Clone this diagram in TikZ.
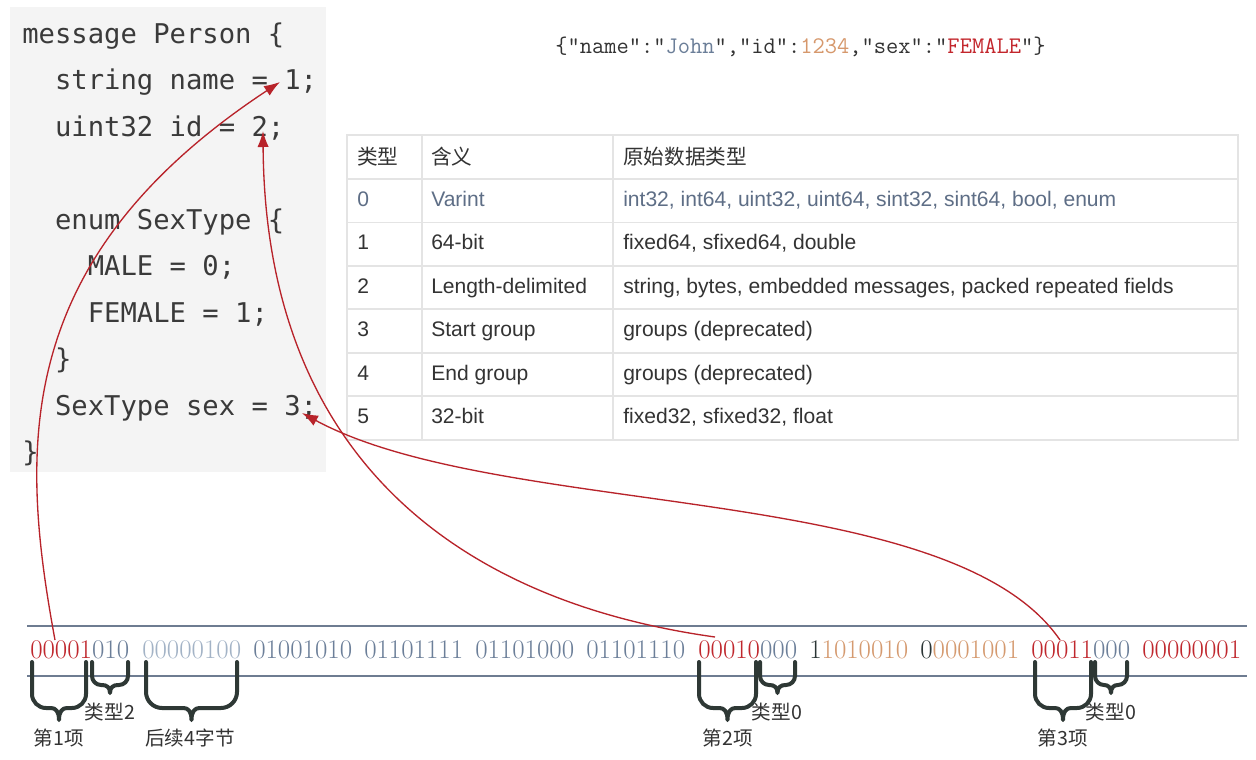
\documentclass[tikz,border=0pt]{standalone}
\usepackage{fontspec}
\usetikzlibrary{arrows.meta}
\newfontfamily\codefont{DejaVu Sans Mono}
\newfontfamily\tabfont{Liberation Sans}
\newfontfamily\cjk{Noto Sans CJK SC}
\definecolor{codebg}{HTML}{F4F4F4}
\definecolor{codegray}{HTML}{3A3A3A}
\definecolor{tabline}{HTML}{E4E4E4}
\definecolor{tabtext}{HTML}{333333}
\definecolor{tabslate}{HTML}{5E6E86}
\definecolor{jdark}{HTML}{333333}
\definecolor{jslate}{HTML}{6B7E98}
\definecolor{jtan}{HTML}{D6986C}
\definecolor{jred}{HTML}{C3262C}
\definecolor{bred}{HTML}{C0272D}
\definecolor{bslate}{HTML}{6C7F99}
\definecolor{blight}{HTML}{A3B3C6}
\definecolor{btan}{HTML}{D59A6F}
\definecolor{bdark}{HTML}{2B3535}
\definecolor{rulecol}{HTML}{6E7C91}
\definecolor{bracecol}{HTML}{2E3835}
\definecolor{arrowred}{HTML}{B8232A}
\newcommand{\mybrace}[6]{%
  \pgfmathsetmacro\bM{(#1+#2)/2}%
  \pgfmathsetmacro\bS{min(8,(#2-#1)/2-#6)}%
  \draw[bracestyle] (#1,#3) -- (#1,{#4-#6})
    .. controls (#1,{#4-0.45*#6}) and ({#1+0.45*#6},#4) .. ({#1+#6},#4)
    -- ({\bM-\bS},#4)
    .. controls ({\bM-0.4*\bS},#4) and (\bM,{#4+0.3*(#5-#4)}) .. (\bM,#5)
    .. controls (\bM,{#4+0.3*(#5-#4)}) and ({\bM+0.4*\bS},#4) .. ({\bM+\bS},#4)
    -- ({#2-#6},#4)
    .. controls ({#2-0.45*#6},#4) and (#2,{#4-0.45*#6}) .. (#2,{#4-#6})
    -- (#2,#3);}
\begin{document}
\begin{tikzpicture}[x=0.75pt,y=-0.75pt,
  code/.style={anchor=base west,inner sep=0pt,text=codegray,font=\codefont\fontsize{20.4}{24}\selectfont},
  cell/.style={anchor=base west,inner sep=0pt,text=tabtext,font=\tabfont\fontsize{15.8}{18}\selectfont},
  hcell/.style={anchor=west,inner sep=0pt,text=tabtext,font=\cjk\fontsize{15.5}{18}\selectfont},
  byte/.style={anchor=base west,inner sep=0pt,font=\fontsize{20.2}{22}\selectfont},
  lab/.style={inner sep=0pt,text=tabtext,font=\cjk\fontsize{14.7}{16}\selectfont},
  bracestyle/.style={draw=bracecol,line width=3pt,line cap=round,line join=round},
  link/.style={draw=arrowred,line width=1pt,-{Latex[length=12pt,width=8.5pt]}}]
\useasboundingbox (0,0) rectangle (1256,760);
\fill[white] (0,0) rectangle (1256,760);
% code box
\fill[codebg] (10,7) rectangle (326,472);
\node[code] (c1) at (22,43) {message Person \{};
\node[code] (c2) at (54.8,89.5) {string name = 1;};
\node[code] (c3) at (54.8,136) {uint32 id = 2;};
\node[code] (c5) at (54.8,229) {enum SexType \{};
\node[code] (c6) at (87.6,275.5) {MALE = 0;};
\node[code] (c7) at (87.6,322) {FEMALE = 1;};
\node[code] (c8) at (54.8,368.5) {\}};
\node[code] (c9) at (54.8,415) {SexType sex = 3;};
\node[code] (c10) at (22,461.5) {\}};
% json
\node[anchor=base west,inner sep=0pt,text=jdark,font=\ttfamily\fontsize{17.85}{20}\selectfont] (json) at (555,53)
  {\{"name":"\textcolor{jslate}{John}","id":\textcolor{jtan}{1234},"sex":"\textcolor{jred}{FEMALE}"\}};
% table
\draw[tabline,line width=1pt] (347,135) rectangle (1238,440);
\foreach \yy in {179,222.5,266,309,353,396} \draw[tabline,line width=1pt] (347,\yy) -- (1238,\yy);
\foreach \xx in {422,613} \draw[tabline,line width=1pt] (\xx,135) -- (\xx,440);
\node[hcell] (h1) at (357,157) {类型};
\node[hcell] (h2) at (431,157) {含义};
\node[hcell] (h3) at (623,157) {原始数据类型};
\node[cell,text=tabslate] (r0a) at (357,206) {0};
\node[cell,text=tabslate] (r0b) at (431,206) {Varint};
\node[cell,text=tabslate] (r0c) at (623,206) {int32, int64, uint32, uint64, sint32, sint64, bool, enum};
\node[cell] (r1a) at (357,249.5) {1};
\node[cell] (r1b) at (431,249.5) {64-bit};
\node[cell] (r1c) at (623,249.5) {fixed64, sfixed64, double};
\node[cell] (r2a) at (357,293) {2};
\node[cell] (r2b) at (431,293) {Length-delimited};
\node[cell] (r2c) at (623,293) {string, bytes, embedded messages, packed repeated fields};
\node[cell] (r3a) at (357,336.5) {3};
\node[cell] (r3b) at (431,336.5) {Start group};
\node[cell] (r3c) at (623,336.5) {groups (deprecated)};
\node[cell] (r4a) at (357,380) {4};
\node[cell] (r4b) at (431,380) {End group};
\node[cell] (r4c) at (623,380) {groups (deprecated)};
\node[cell] (r5a) at (357,423.5) {5};
\node[cell] (r5b) at (431,423.5) {32-bit};
\node[cell] (r5c) at (623,423.5) {fixed32, sfixed32, float};
% byte rules
\draw[rulecol,line width=1pt] (27,626) -- (1247,626);
\draw[rulecol,line width=1pt] (27,676) -- (1247,676);
% bytes
\node[byte] (b1) at (30,658) {\textcolor{bred}{00001}\textcolor{bslate}{010}};
\node[byte,text=blight] (b2) at (142,658) {00000100};
\node[byte,text=bslate] (b3) at (253,658) {01001010};
\node[byte,text=bslate] (b4) at (364,658) {01101111};
\node[byte,text=bslate] (b5) at (475,658) {01101000};
\node[byte,text=bslate] (b6) at (586,658) {01101110};
\node[byte] (b7) at (698,658) {\textcolor{bred}{00010}\textcolor{bslate}{000}};
\node[byte] (b8) at (809,658) {\textcolor{bdark}{1}\textcolor{btan}{1010010}};
\node[byte] (b9) at (920,658) {\textcolor{bdark}{0}\textcolor{btan}{0001001}};
\node[byte] (b10) at (1031,658) {\textcolor{bred}{00011}\textcolor{bslate}{000}};
\node[byte,text=bred] (b11) at (1142,658) {00000001};
% braces
\mybrace{32}{86}{662}{708}{720}{14}
\mybrace{92}{128}{662}{685}{693}{9}
\mybrace{146}{237}{662}{708}{720}{16}
\mybrace{699}{756}{662}{708}{720}{14}
\mybrace{760}{795}{662}{685}{693}{9}
\mybrace{1035}{1091}{662}{708}{720}{14}
\mybrace{1095}{1127}{662}{685}{693}{9}
% labels
\node[lab] (l1) at (59,738) {第1项};
\node[lab] (l2) at (110,712) {类型2};
\node[lab] (l3) at (190,738) {后续4字节};
\node[lab] (l4) at (728,738) {第2项};
\node[lab] (l5) at (777,712) {类型0};
\node[lab] (l6) at (1063,738) {第3项};
\node[lab] (l7) at (1111,712) {类型0};
% arrows
\coordinate (s1) at (55,640);
\coordinate (t1) at (280,82);
\coordinate (s2) at (715,637);
\coordinate (t2) at (263,131);
\coordinate (s3) at (1060,640);
\coordinate (t3) at (302,413);
\draw[link] (s1) .. controls (20,450) and (10,260) .. (t1);
\draw[link] (s2) .. controls (450,600) and (265,450) .. (t2);
\draw[link] (s3) .. controls (950,480) and (500,520) .. (t3);
\end{tikzpicture}
\end{document}
